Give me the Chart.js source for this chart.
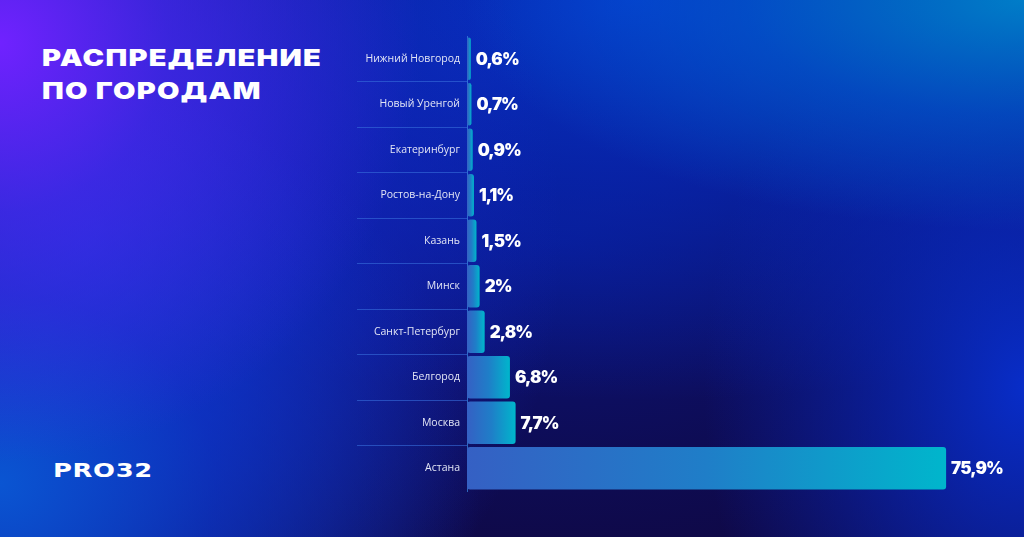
<!DOCTYPE html>
<html lang="ru">
<head>
<meta charset="utf-8">
<script src="https://cdn.jsdelivr.net/npm/chart.js@4"></script>
<style>
  html, body {
    margin: 0;
    padding: 0;
    width: 1024px;
    height: 537px;
    overflow: hidden;
  }
  body {
    position: relative;
    background:
      radial-gradient(ellipse 420px 420px at 0% 8%, rgba(112, 34, 255, 1) 0%, rgba(80, 38, 240, 0.65) 40%, transparent 100%),
      radial-gradient(ellipse 480px 420px at 0% 90%, rgba(10, 85, 210, 1) 0%, rgba(10, 60, 205, 0.6) 45%, transparent 100%),
      radial-gradient(ellipse 600px 640px at 8% 45%, rgba(25, 45, 215, 0.95) 0%, rgba(20, 40, 205, 0.7) 35%, transparent 80%),
      radial-gradient(ellipse 560px 230px at 100% 0%, rgba(0, 125, 200, 1) 0%, rgba(0, 95, 205, 0.6) 50%, transparent 100%),
      radial-gradient(ellipse 320px 440px at 100% 72%, rgba(8, 45, 200, 1) 0%, rgba(8, 40, 190, 0.55) 50%, transparent 100%),
      radial-gradient(ellipse 900px 400px at 62% 0%, rgba(5, 55, 210, 0.95) 0%, rgba(5, 45, 200, 0.6) 45%, transparent 100%),
      radial-gradient(ellipse 650px 380px at 55% 45%, rgba(10, 22, 135, 0.85) 0%, rgba(10, 20, 120, 0.4) 55%, transparent 100%),
      #10073f;
    font-family: "Inter", "DejaVu Sans", sans-serif;
  }
  .title {
    position: absolute;
    left: 42px;
    top: 42px;
    color: #fff;
    font-weight: 900;
    font-size: 23px;
    line-height: 33px;
    letter-spacing: 1px;
    transform: scaleX(1.26);
    transform-origin: left top;
    white-space: nowrap;
  }
  .logo {
    position: absolute;
    left: 53px;
    top: 458px;
    color: #fff;
    font-family: "DejaVu Sans", sans-serif;
    font-weight: bold;
    font-size: 20px;
    letter-spacing: 0.5px;
    transform: scaleX(1.29);
    transform-origin: left top;
  }
  #chart {
    position: absolute;
    left: 0;
    top: 0;
  }
</style>
</head>
<body>
<div class="title">РАСПРЕДЕЛЕНИЕ<br>ПО ГОРОДАМ</div>
<div class="logo">PRO32</div>
<canvas id="chart" width="1024" height="537"></canvas>
<script>
"use strict";

const cities = [
  "Нижний Новгород",
  "Новый Уренгой",
  "Екатеринбург",
  "Ростов-на-Дону",
  "Казань",
  "Минск",
  "Санкт-Петербург",
  "Белгород",
  "Москва",
  "Астана",
];
const shares = [0.6, 0.7, 0.9, 1.1, 1.5, 2, 2.8, 6.8, 7.7, 75.9];

function formatShare(value) {
  return String(value).replace(".", ",") + "%";
}

function barGradient(context) {
  const chart = context.chart;
  if (!chart.chartArea) {
    return "#2a6fd0";
  }
  const xScale = chart.scales.x;
  const start = xScale.getPixelForValue(0);
  const end = xScale.getPixelForValue(context.raw);
  const gradient = chart.ctx.createLinearGradient(start, 0, Math.max(end, start + 1), 0);
  gradient.addColorStop(0, "#3560c4");
  gradient.addColorStop(0.5, "#1f7ec8");
  gradient.addColorStop(1, "#00b6cc");
  return gradient;
}

// percentages to the right of each bar
const valueLabels = {
  id: "valueLabels",
  afterDatasetsDraw(chart) {
    const ctx = chart.ctx;
    const bars = chart.getDatasetMeta(0).data;
    ctx.save();
    ctx.fillStyle = "#ffffff";
    ctx.font = "900 17px Inter";
    ctx.textBaseline = "middle";
    ctx.textAlign = "left";
    if ("letterSpacing" in ctx) {
      ctx.letterSpacing = "-0.9px";
    }
    for (let i = 0; i < bars.length; i++) {
      ctx.fillText(formatShare(shares[i]), bars[i].x + 5, bars[i].y + 1);
    }
    ctx.restore();
  },
};

const chartCanvas = document.getElementById("chart");

const cityChart = new Chart(chartCanvas, {
  type: "bar",
  data: {
    labels: cities,
    datasets: [
      {
        data: shares,
        backgroundColor: barGradient,
        borderRadius: 3,
        borderSkipped: false,
        barPercentage: 0.93,
        categoryPercentage: 1,
      },
    ],
  },
  options: {
    indexAxis: "y",
    responsive: false,
    animation: false,
    layout: {
      padding: { left: 357, right: 52, top: 36, bottom: 46 },
    },
    plugins: {
      legend: { display: false },
      tooltip: { enabled: false },
    },
    scales: {
      x: {
        display: false,
        min: 0,
        max: 80,
      },
      y: {
        afterFit(scale) {
          scale.width = 110;
        },
        border: {
          display: true,
          color: "rgba(60, 140, 230, 0.7)",
          width: 1,
        },
        grid: {
          drawOnChartArea: false,
          drawTicks: true,
          tickLength: 110,
          lineWidth: 1,
          color(context) {
            if (!context.tick || context.index === 0) {
              return "rgba(0, 0, 0, 0)";
            }
            return "rgba(55, 110, 220, 0.6)";
          },
        },
        ticks: {
          padding: -103,
          color: "#e2e5f5",
          font: { family: "Open Sans", size: 10.5 },
        },
      },
    },
  },
  plugins: [valueLabels],
});
</script>
</body>
</html>
